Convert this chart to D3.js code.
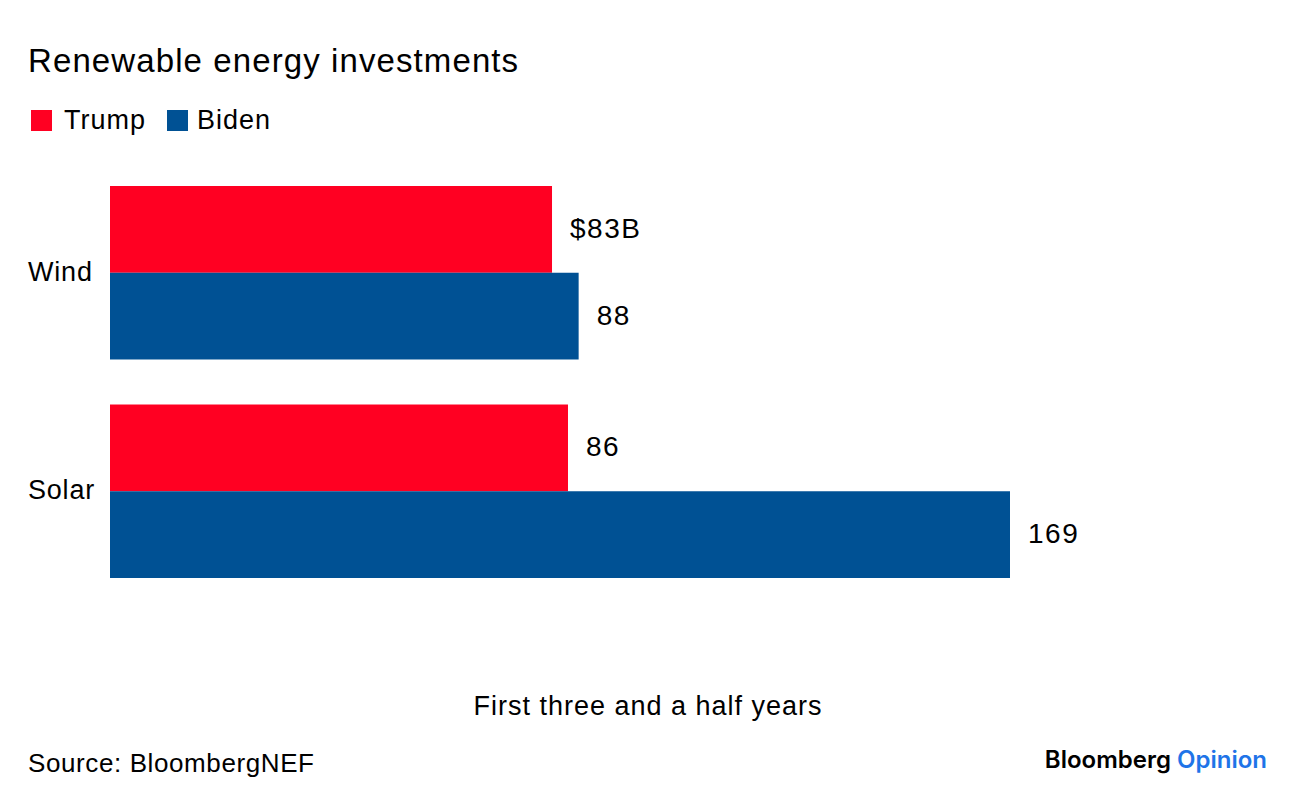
<!DOCTYPE html>
<html>
<head>
<meta charset="utf-8">
<script src="https://cdn.jsdelivr.net/npm/d3@7"></script>
<style>
body { margin: 0; background: #fff; }
svg text { font-family: "Liberation Sans", Arial, sans-serif; fill: #000; }
</style>
</head>
<body>
<svg id="chart" width="1296" height="804"></svg>
<script>
var categories = ["Wind", "Solar"];
var series = ["Trump", "Biden"];
var trump = [83, 86];
var biden = [88, 169];
var colors = ["#ff0022", "#005194"];

var svg = d3.select("#chart");

var x = d3.scaleLinear().domain([0, 169]).range([110, 1010]);
var y = d3.scaleBand().domain(categories).range([186, 578]).paddingInner(0.206).paddingOuter(0);
var ySub = d3.scaleBand().domain(series).range([0, y.bandwidth()]);

svg.append("text").attr("x", 28).attr("y", 72)
  .style("font-size", "33px").style("letter-spacing", "1.1px")
  .text("Renewable energy investments");

// legend
var leg = svg.append("g");
var lx = [31, 167];
series.forEach(function(s, i){
  leg.append("rect").attr("x", lx[i]).attr("y", 110).attr("width", 21).attr("height", 21).attr("fill", colors[i]);
  leg.append("text").attr("x", lx[i] + (i === 0 ? 33 : 30)).attr("y", 129)
    .style("font-size", "27px").style("letter-spacing", "1px").text(s);
});

var rows = [];
categories.forEach(function(c, i){
  rows.push({cat: c, s: "Trump", v: trump[i], lab: i === 0 ? "$" + trump[i] + "B" : "" + trump[i], col: colors[0]});
  rows.push({cat: c, s: "Biden", v: biden[i], lab: "" + biden[i], col: colors[1]});
});

svg.selectAll("rect.bar").data(rows).enter().append("rect")
  .attr("class", "bar")
  .attr("x", x(0))
  .attr("y", function(d){ return y(d.cat) + ySub(d.s); })
  .attr("width", function(d){ return x(d.v) - x(0); })
  .attr("height", ySub.bandwidth())
  .attr("fill", function(d){ return d.col; });

svg.selectAll("text.val").data(rows).enter().append("text")
  .attr("class", "val")
  .attr("x", function(d){ return x(d.v) + 18; })
  .attr("y", function(d){ return y(d.cat) + ySub(d.s) + ySub.bandwidth() / 2; })
  .attr("dy", "0.3em")
  .style("font-size", "28px").style("letter-spacing", "1.5px")
  .text(function(d){ return d.lab; });

svg.selectAll("text.cat").data(categories).enter().append("text")
  .attr("class", "cat")
  .attr("x", 28)
  .attr("y", function(d){ return y(d) + y.bandwidth() / 2; })
  .attr("dy", "0.3em")
  .style("font-size", "27px").style("letter-spacing", "0.8px")
  .text(function(d){ return d; });

svg.append("text").attr("x", 648).attr("y", 715).attr("text-anchor", "middle")
  .style("font-size", "27px").style("letter-spacing", "1px")
  .text("First three and a half years");

svg.append("text").attr("x", 28).attr("y", 772)
  .style("font-size", "26px").style("letter-spacing", "0.6px")
  .text("Source: BloombergNEF");

var logo = svg.append("text").attr("x", 1267).attr("y", 768).attr("text-anchor", "end")
  .style("font-family", "Inter, sans-serif").style("font-size", "24px").style("font-weight", "600");
logo.append("tspan").text("Bloomberg ");
logo.append("tspan").style("fill", "#1f74e8").text("Opinion");
</script>
</body>
</html>
